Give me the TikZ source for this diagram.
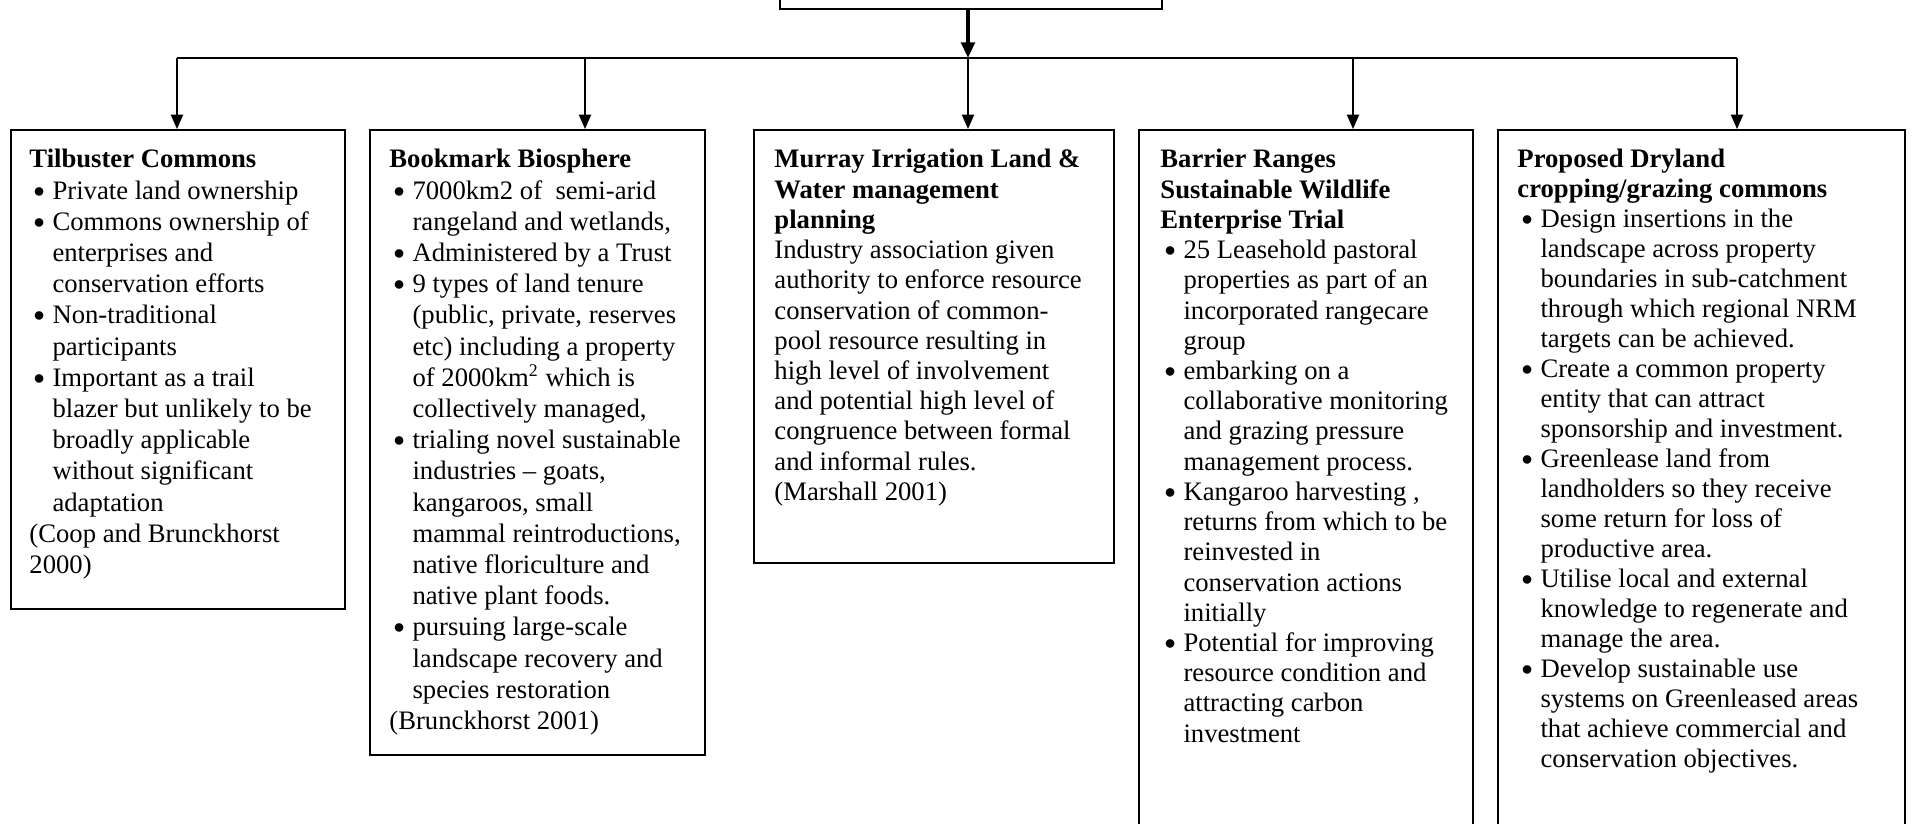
\documentclass[tikz,border=0pt]{standalone}
\usepackage{fontspec}
\setmainfont{Liberation Serif}
\usetikzlibrary{arrows.meta}
\newcommand\myb{\makebox[10.4pt][l]{\hspace{1.9pt}\raisebox{0.9pt}{\fontsize{10}{10}\selectfont$\bullet$}}}
\newcommand\myi{\hspace*{10.4pt}}
\begin{document}
\begin{tikzpicture}[x=0.45pt,y=-0.45pt,
  box/.style={draw,line width=0.75pt,inner sep=0pt,anchor=north west},
  txtA/.style={inner sep=0pt,anchor=north west,align=left,font=\fontsize{12}{14.04}\selectfont},
  txtB/.style={inner sep=0pt,anchor=north west,align=left,font=\fontsize{12}{13.6}\selectfont},
  txtC/.style={inner sep=0pt,anchor=north west,align=left,font=\fontsize{12}{13.5}\selectfont},
  conn/.style={line width=0.75pt},
  arr/.style={line width=0.75pt,-{Triangle[length=6.5pt,width=5.5pt]}},
  bigarr/.style={line width=1.8pt,-{Triangle[length=7pt,width=6pt]}}]
\useasboundingbox (0,0) rectangle (1914,824);
% top box (mostly above the page)
\node[draw,line width=0.75pt,inner sep=0pt,anchor=south west,minimum width=171.9pt,minimum height=40pt] (top) at (779,10) {};
% boxes
\node[box,minimum width=150.3pt,minimum height=215.55pt] (b1) at (10,129) {};
\node[box,minimum width=150.75pt,minimum height=281.25pt] (b2) at (369,129) {};
\node[box,minimum width=162pt,minimum height=194.85pt] (b3) at (753,129) {};
\node[box,minimum width=150.3pt,minimum height=360pt] (b4) at (1138,129) {};
\node[box,minimum width=183.15pt,minimum height=360pt] (b5) at (1497,129) {};
% connectors
\coordinate (j) at (968,58);
\coordinate (a1) at (177,58);
\coordinate (a2) at (585,58);
\coordinate (a4) at (1353,58);
\coordinate (a5) at (1737,58);
\draw[bigarr] (top.south -| j) -- (j);
\draw[conn] (a1) -- (a5);
\draw[arr] (a1) -- (a1 |- b1.north);
\draw[arr] (a2) -- (a2 |- b2.north);
\draw[arr] (j) -- (j |- b3.north);
\draw[arr] (a4) -- (a4 |- b4.north);
\draw[arr] (a5) -- (a5 |- b5.north);
% texts
\node[txtA] (t1) at ([shift={(19,18.5)}]b1.north west) {\rule{0pt}{9pt}\textbf{Tilbuster Commons}\\
\myb Private land ownership\\
\myb Commons ownership of\\
\myi enterprises and\\
\myi conservation efforts\\
\myb Non-traditional\\
\myi participants\\
\myb Important as a trail\\
\myi blazer but unlikely to be\\
\myi broadly applicable\\
\myi without significant\\
\myi adaptation\\
(Coop and Brunckhorst\\
2000)};
\node[txtA] (t2) at ([shift={(20,18.5)}]b2.north west) {\rule{0pt}{9pt}\textbf{Bookmark Biosphere}\\
\myb 7000km2 of \ semi-arid\\
\myi rangeland and wetlands,\\
\myb Administered by a Trust\\
\myb 9 types of land tenure\\
\myi (public, private, reserves\\
\myi etc) including a property\\
\myi of 2000km\textsuperscript{2} which is\\
\myi collectively managed,\\
\myb trialing novel sustainable\\
\myi industries – goats,\\
\myi kangaroos, small\\
\myi mammal reintroductions,\\
\myi native floriculture and\\
\myi native plant foods.\\
\myb pursuing large-scale\\
\myi landscape recovery and\\
\myi species restoration\\
(Brunckhorst 2001)};
\node[txtB] (t3) at ([shift={(21,18.5)}]b3.north west) {\rule{0pt}{9pt}\textbf{Murray Irrigation Land \&}\\
\textbf{Water management}\\
\textbf{planning}\\
Industry association given\\
authority to enforce resource\\
conservation of common-\\
pool resource resulting in\\
high level of involvement\\
and potential high level of\\
congruence between formal\\
and informal rules.\\
(Marshall 2001)};
\node[txtB] (t4) at ([shift={(22,18.5)}]b4.north west) {\rule{0pt}{9pt}\textbf{Barrier Ranges}\\
\textbf{Sustainable Wildlife}\\
\textbf{Enterprise Trial}\\
\myb 25 Leasehold pastoral\\
\myi properties as part of an\\
\myi incorporated rangecare\\
\myi group\\
\myb embarking on a\\
\myi collaborative monitoring\\
\myi and grazing pressure\\
\myi management process.\\
\myb Kangaroo harvesting ,\\
\myi returns from which to be\\
\myi reinvested in\\
\myi conservation actions\\
\myi initially\\
\myb Potential for improving\\
\myi resource condition and\\
\myi attracting carbon\\
\myi investment};
\node[txtC] (t5) at ([shift={(20,18.5)}]b5.north west) {\rule{0pt}{9pt}\textbf{Proposed Dryland}\\
\textbf{cropping/grazing commons}\\
\myb Design insertions in the\\
\myi landscape across property\\
\myi boundaries in sub-catchment\\
\myi through which regional NRM\\
\myi targets can be achieved.\\
\myb Create a common property\\
\myi entity that can attract\\
\myi sponsorship and investment.\\
\myb Greenlease land from\\
\myi landholders so they receive\\
\myi some return for loss of\\
\myi productive area.\\
\myb Utilise local and external\\
\myi knowledge to regenerate and\\
\myi manage the area.\\
\myb Develop sustainable use\\
\myi systems on Greenleased areas\\
\myi that achieve commercial and\\
\myi conservation objectives.};
\end{tikzpicture}
\end{document}
